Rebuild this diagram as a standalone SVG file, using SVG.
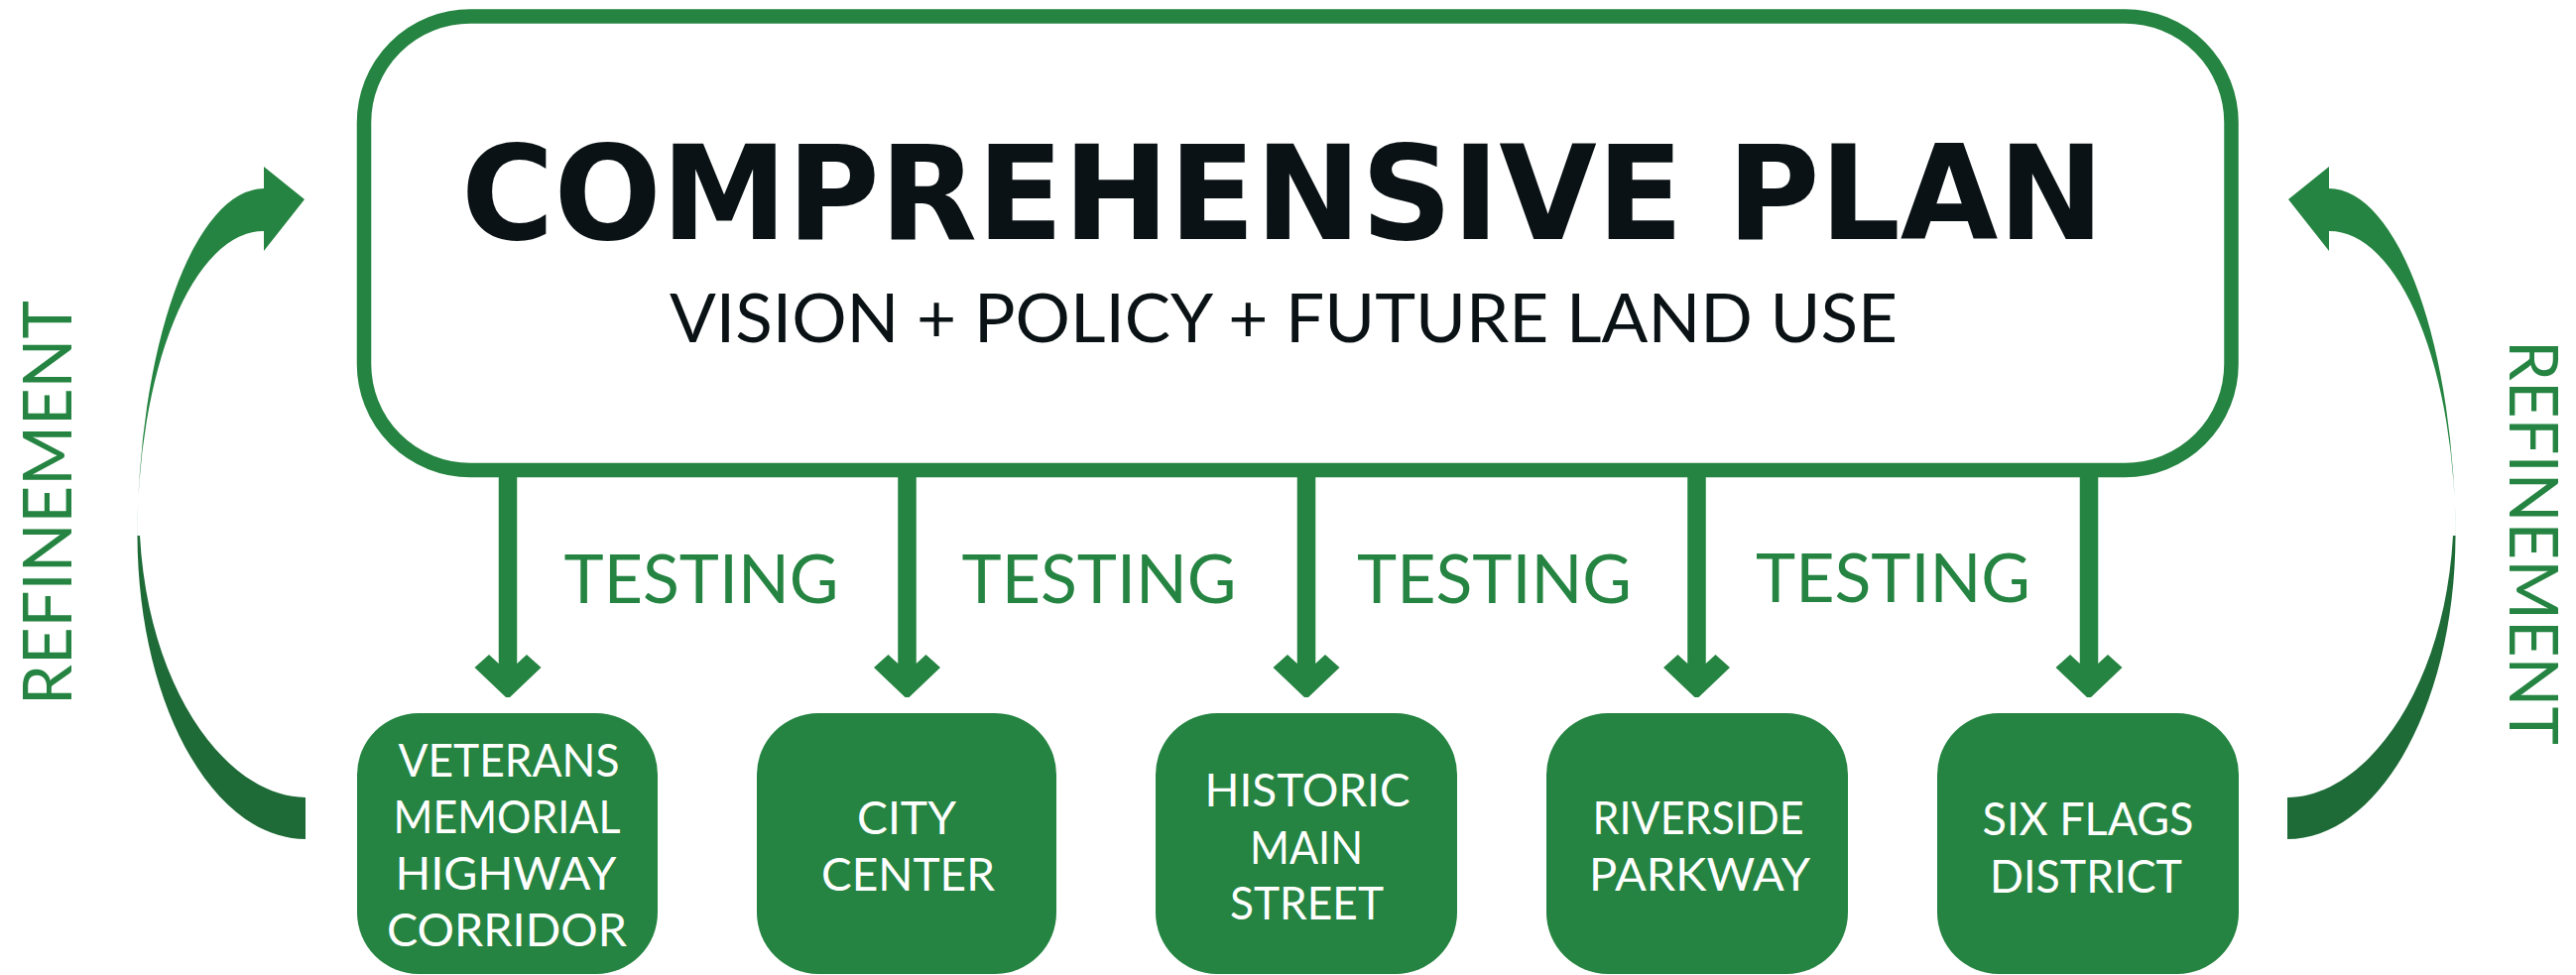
<svg xmlns="http://www.w3.org/2000/svg" xmlns:xlink="http://www.w3.org/1999/xlink" width="2597" height="983" viewBox="0 0 2597 983">
  <style>
    .green { fill: #258441; }
    .dark { fill: #1e6b37; }
    .title { font-family: "DejaVu Sans", "Liberation Sans", sans-serif; font-weight: bold; font-size: 132px; fill: #0a1215; }
    .sub { font-family: Lato, "Open Sans", sans-serif; font-size: 67px; fill: #0a1215; }
    .test { font-family: Lato, "Open Sans", sans-serif; font-size: 68px; fill: #258441; }
    .refine { font-family: Lato, "Open Sans", sans-serif; font-size: 68px; fill: #258441; }
    .nodebox { fill: #258441; }
    .nodetext { font-family: Lato, "Open Sans", sans-serif; font-size: 46px; fill: #ffffff; text-anchor: middle; }
  </style>
  <defs>
    <path id="conn" d="M -9.25,470 V 669 L -19,660 L -33.5,673 L -2,703 L 2,703 L 33.5,673 L 19,660 L 9.25,669 V 470 Z"/>
    <g id="refineArrow">
      <path class="green" d="M 266,190 L 266,168 L 307,201 L 266,253 L 266,233 A 127 307 0 0 0 138.5,545 A 128 355 0 0 1 266,190 Z"/>
      <path class="dark" d="M 138.5,540 C 139,710 215,846 308,846 L 308,804 C 232,804 150,700 141,540 Z"/>
    </g>
  </defs>

  <g id="comprehensive-plan">
    <rect x="367" y="16.5" width="1882.5" height="457.5" rx="107" ry="107" fill="#ffffff" stroke="#258441" stroke-width="14.5"/>
    <text class="title" x="1293" y="241" text-anchor="middle" textLength="1656" lengthAdjust="spacingAndGlyphs">COMPREHENSIVE PLAN</text>
    <text class="sub" x="1294" y="345" text-anchor="middle" textLength="1238" lengthAdjust="spacingAndGlyphs">VISION + POLICY + FUTURE LAND USE</text>
  </g>

  <g id="connectors" class="green">
    <use xlink:href="#conn" href="#conn" x="512" y="0"/>
    <use xlink:href="#conn" href="#conn" x="914.5" y="0"/>
    <use xlink:href="#conn" href="#conn" x="1317" y="0"/>
    <use xlink:href="#conn" href="#conn" x="1710.5" y="0"/>
    <use xlink:href="#conn" href="#conn" x="2106" y="0"/>
    <g id="refinement-left">
      <use xlink:href="#refineArrow" href="#refineArrow"/>
    </g>
    <g id="refinement-right" transform="translate(2614,0) scale(-1,1)">
      <use xlink:href="#refineArrow" href="#refineArrow"/>
    </g>
  </g>

  <g id="labels">
    <text class="test" x="707" y="608" text-anchor="middle" textLength="277" lengthAdjust="spacingAndGlyphs">TESTING</text>
    <text class="test" x="1108" y="608" text-anchor="middle" textLength="277" lengthAdjust="spacingAndGlyphs">TESTING</text>
    <text class="test" x="1506.5" y="608" text-anchor="middle" textLength="277" lengthAdjust="spacingAndGlyphs">TESTING</text>
    <text class="test" x="1908.5" y="606.5" text-anchor="middle" textLength="277" lengthAdjust="spacingAndGlyphs">TESTING</text>
    <text class="refine" transform="translate(72,507) rotate(-90)" x="0" y="0" text-anchor="middle" textLength="408" lengthAdjust="spacingAndGlyphs">REFINEMENT</text>
    <text class="refine" transform="translate(2530,547) rotate(90)" x="0" y="0" text-anchor="middle" textLength="408" lengthAdjust="spacingAndGlyphs">REFINEMENT</text>
  </g>

  <g id="node-veterans">
    <rect class="nodebox" x="360" y="719" width="303" height="263" rx="62" ry="62"/>
    <text class="nodetext" x="513" y="783" textLength="223" lengthAdjust="spacingAndGlyphs">VETERANS</text>
    <text class="nodetext" x="511" y="840" textLength="229" lengthAdjust="spacingAndGlyphs">MEMORIAL</text>
    <text class="nodetext" x="510" y="897" textLength="223" lengthAdjust="spacingAndGlyphs">HIGHWAY</text>
    <text class="nodetext" x="511" y="954" textLength="242" lengthAdjust="spacingAndGlyphs">CORRIDOR</text>
  </g>

  <g id="node-city-center">
    <rect class="nodebox" x="763" y="719" width="302" height="263" rx="62" ry="62"/>
    <text class="nodetext" x="914" y="841" textLength="100" lengthAdjust="spacingAndGlyphs">CITY</text>
    <text class="nodetext" x="915.5" y="898" textLength="175" lengthAdjust="spacingAndGlyphs">CENTER</text>
  </g>

  <g id="node-historic-main-street">
    <rect class="nodebox" x="1165" y="719" width="304" height="263" rx="62" ry="62"/>
    <text class="nodetext" x="1318" y="813" textLength="207" lengthAdjust="spacingAndGlyphs">HISTORIC</text>
    <text class="nodetext" x="1317" y="871" textLength="114" lengthAdjust="spacingAndGlyphs">MAIN</text>
    <text class="nodetext" x="1317.5" y="927" textLength="155" lengthAdjust="spacingAndGlyphs">STREET</text>
  </g>

  <g id="node-riverside-parkway">
    <rect class="nodebox" x="1559" y="719" width="304" height="263" rx="62" ry="62"/>
    <text class="nodetext" x="1712" y="841" textLength="213" lengthAdjust="spacingAndGlyphs">RIVERSIDE</text>
    <text class="nodetext" x="1713.5" y="898" textLength="223" lengthAdjust="spacingAndGlyphs">PARKWAY</text>
  </g>

  <g id="node-six-flags">
    <rect class="nodebox" x="1953" y="719" width="304" height="263" rx="62" ry="62"/>
    <text class="nodetext" x="2105" y="842" textLength="213" lengthAdjust="spacingAndGlyphs">SIX FLAGS</text>
    <text class="nodetext" x="2103" y="900" textLength="194" lengthAdjust="spacingAndGlyphs">DISTRICT</text>
  </g>
</svg>
